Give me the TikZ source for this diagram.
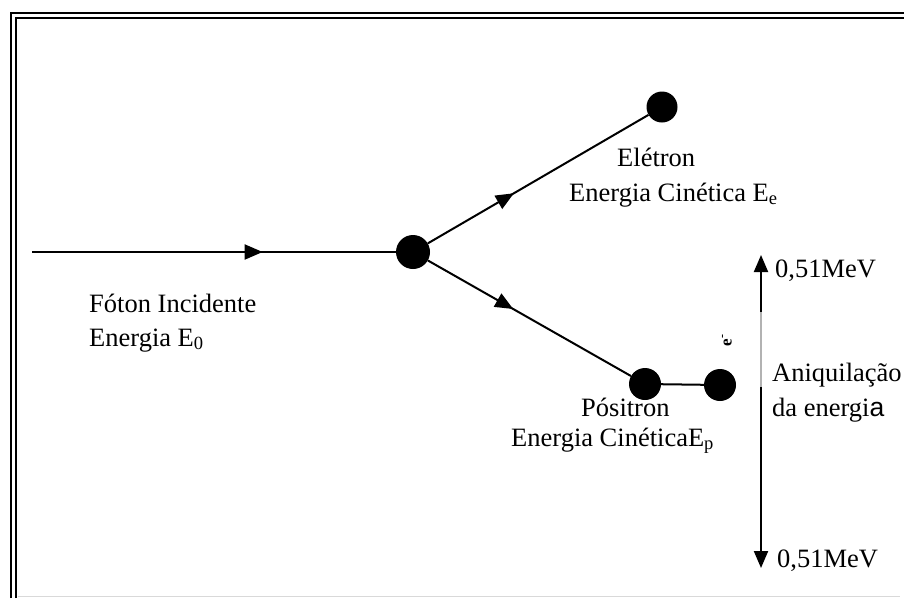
\documentclass[tikz,border=0pt]{standalone}
\usepackage{fontspec}
\setmainfont{Liberation Serif}
\newfontfamily\sansa{Liberation Sans}
\usetikzlibrary{arrows.meta,decorations.markings}
\begin{document}
\begin{tikzpicture}[x=1pt,y=-1pt,
  dot/.style={circle,fill=black,draw=none,inner sep=0pt,minimum size=#1},
  conn/.style={line width=2pt,black},
  lbl/.style={font=\fontsize{26.5}{33}\selectfont,inner sep=0pt,anchor=base west},
  tri/.style={-{Triangle[length=17pt,width=14pt]}},
  midarrow/.style={postaction={decorate},decoration={markings,
     mark=at position #1 with {\arrow{Triangle[length=18pt,width=15pt]}}}},
  frame/.style={line width=1.4pt,black}]
\useasboundingbox (0,0) rectangle (904,598);
% frame
\draw[frame] (11,598) -- (11,13) -- (904,13);
\draw[frame] (16,598) -- (16,18) -- (904,18);
\draw[gray!30,line width=1pt] (18,596) -- (900,596);
% particles
\node[dot=34pt] (c) at (413,252) {};
\node[dot=31pt] (el) at (662,107) {};
\node[dot=32pt] (p1) at (645,384) {};
\node[dot=32pt] (p2) at (720,385) {};
\coordinate (start) at (32,252);
% connectors
\draw[conn,midarrow=0.634] (start) -- (c);
\draw[conn,midarrow=0.39] (c) -- (el);
\draw[conn,midarrow=0.42] (c) -- (p1);
\draw[conn] (p1) -- (p2);
% annihilation arrows
\coordinate (vt) at (761,255);
\coordinate (vb) at (761,568);
\coordinate (vm1) at (761,312);
\coordinate (vm2) at (761,512);
\draw[gray!60,line width=1.2pt] (vm1) -- (vm2);
\draw[conn,tri] (vm1) -- (vt);
\draw[conn] (761,387) -- (vm2);
\draw[conn,tri] (vm2) -- (vb);
% labels
\node[lbl] (tel) at (617,166) {Elétron};
\node[lbl] (tele) at (569,201) {Energia Cinética E\textsubscript{e}};
\node[lbl] (tfo) at (89,312) {Fóton Incidente};
\node[lbl] (tfoe) at (89,346) {Energia E\textsubscript{0}};
\node[lbl] (tpo) at (581,416) {Pósitron};
\node[lbl] (tpoe) at (511,446) {Energia CinéticaE\textsubscript{p}};
\node[lbl] (tup) at (775,277) {0,51MeV};
\node[lbl] (tan) at (772,381) {Aniquilação};
\node[lbl] (tda) at (772,416) {da energi{\sansa a}};
\node[lbl] (tdn) at (777,567) {0,51MeV};
\node[font=\fontsize{17}{17}\selectfont\bfseries,inner sep=0pt,rotate=90] (em) at (727,340) {e\textsuperscript{-}};
\end{tikzpicture}
\end{document}
